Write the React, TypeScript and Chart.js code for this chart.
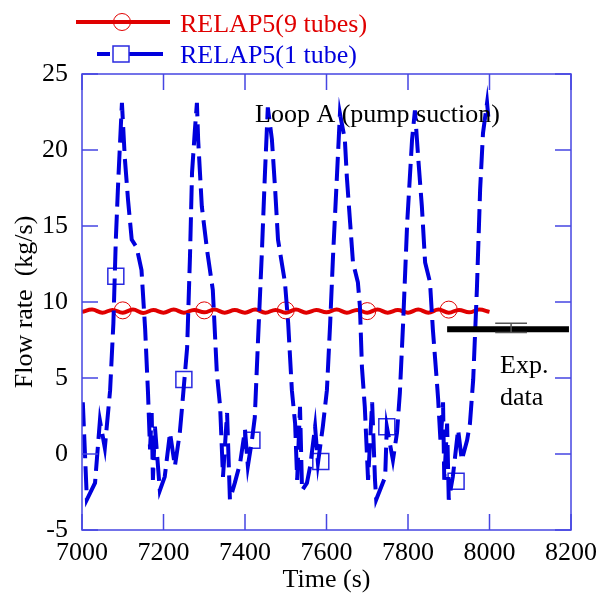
import { useEffect, useRef } from "react";
import { Chart, registerables } from "chart.js";

Chart.register(...registerables);

// ---- data ----
const xTickValues = [7000, 7200, 7400, 7600, 7800, 8000, 8200];
const yTickValues = [-5, 0, 5, 10, 15, 20, 25];

const nineTubeTime = [
  7000, 7025, 7050, 7075, 7100, 7125, 7150, 7175, 7200, 7225,
  7250, 7275, 7300, 7325, 7350, 7375, 7400, 7425, 7450, 7475,
  7500, 7525, 7550, 7575, 7600, 7625, 7650, 7675, 7700, 7725,
  7750, 7775, 7800, 7825, 7850, 7875, 7900, 7925, 7950, 7975, 8000,
];
const nineTubeFlow = [
  9.35, 9.5, 9.3, 9.48, 9.3, 9.5, 9.28, 9.47, 9.3, 9.5,
  9.3, 9.48, 9.32, 9.5, 9.3, 9.47, 9.3, 9.5, 9.3, 9.48,
  9.3, 9.5, 9.3, 9.47, 9.32, 9.5, 9.3, 9.48, 9.3, 9.5,
  9.3, 9.47, 9.3, 9.5, 9.3, 9.5, 9.3, 9.48, 9.32, 9.5, 9.35,
];
const nineTubeMarkerTime = [7100, 7300, 7500, 7700, 7900];
const nineTubeMarkerFlow = [9.45, 9.45, 9.45, 9.4, 9.5];

const oneTubeTime = [
  7002, 7012, 7032, 7044, 7056, 7069, 7077, 7083, 7089, 7098,
  7105, 7113, 7122, 7134, 7146, 7155, 7162, 7167, 7171, 7174,
  7179, 7191, 7203, 7216, 7228, 7240, 7245, 7258, 7265, 7270,
  7277, 7282, 7285, 7294, 7307, 7321, 7331, 7339, 7346, 7356,
  7363, 7375, 7388, 7400, 7407, 7417, 7424, 7432, 7441, 7449,
  7456, 7466, 7474, 7481, 7498, 7506, 7515, 7523, 7528, 7535,
  7540, 7552, 7560, 7572, 7579, 7591, 7601, 7609, 7616, 7626,
  7633, 7645, 7650, 7658, 7665, 7677, 7682, 7687, 7694, 7702,
  7712, 7719, 7722, 7744, 7748, 7763, 7773, 7780, 7788, 7798,
  7810, 7817, 7825, 7834, 7842, 7854, 7861, 7871, 7874, 7880,
  7886, 7889, 7896, 7900, 7910, 7923, 7932, 7945, 7952, 7960,
  7969, 7977, 7984, 7994, 7997,
];
const oneTubeFlow = [
  3.4, -3.0, -1.9, 2.2, 0.4, 4.2, 8.6, 14.1, 18.0, 23.1,
  19.5, 16.7, 14.1, 13.6, 12.1, 8.2, 4.0, 0.3, 2.7, -1.7,
  1.8, -2.4, -1.5, 1.4, -0.8, 1.4, 2.9, 7.0, 13.0, 18.5,
  21.3, 23.1, 20.7, 16.3, 13.4, 10.8, 5.3, 3.1, -1.5, 2.7,
  -3.0, -1.9, -0.6, 1.6, -0.8, 0.9, 2.4, 7.5, 13.0, 18.5,
  22.8, 20.7, 17.4, 14.1, 11.3, 8.6, 4.2, 2.0, -1.7, 3.1,
  -2.4, -1.9, -0.8, 1.8, -0.6, 1.8, 4.2, 8.6, 13.0, 18.5,
  22.4, 20.7, 18.2, 15.2, 12.6, 11.3, 9.7, 5.7, 3.1, -1.7,
  3.4, -1.7, -3.0, -1.5, 1.8, -0.4, 1.4, 4.0, 8.6, 15.2,
  20.7, 22.6, 19.5, 16.3, 12.6, 11.3, 8.2, 4.7, 3.6, 0.7,
  3.4, -1.7, 2.0, -3.0, -1.5, 1.6, -0.4, 0.9, 2.0, 4.9,
  10.8, 17.4, 21.1, 23.1, 22.2,
];
const oneTubeMarkerTime = [7083, 7250, 7417, 7586, 7748, 7918];
const oneTubeMarkerFlow = [11.7, 4.9, 0.9, -0.5, 1.8, -1.8];

const expTime = [7896, 8195];
const expFlow = [8.2, 8.2];
const expErrTime = 8053;
const expErrLow = 8.0;
const expErrHigh = 8.6;
const expErrCapHalf = 39;

const legendLabels = ["RELAP5(9 tubes)", "RELAP5(1 tube)"];
const annotationLoop = "Loop A (pump suction)";
const annotationExp = ["Exp.", "data"];
const xTitle = "Time (s)";
const yTitle = "Flow rate  (kg/s)";

// ---- styles ----
const RED = "#e00000";
const BLUE = "#0000dd";
const MARKER_BLUE = "#2a2ae0";
const AXIS = "#4646e2";
const FONT = "'Liberation Serif', 'Times New Roman', serif";
const FS = 26;

const zip = (xs: number[], ys: number[]) => xs.map((x, i) => ({ x, y: ys[i] }));

const decorPlugin = {
  id: "decor",
  afterDatasetsDraw(chart: any) {
    const { ctx, chartArea: a, scales } = chart;
    const xs = scales.x;
    const ys = scales.y;
    ctx.save();
    // frame
    ctx.strokeStyle = AXIS;
    ctx.lineWidth = 1.5;
    ctx.strokeRect(a.left, a.top, a.right - a.left, a.bottom - a.top);
    // inward ticks
    const TL = 16;
    ctx.beginPath();
    xTickValues.forEach((v) => {
      const px = xs.getPixelForValue(v);
      ctx.moveTo(px, a.bottom);
      ctx.lineTo(px, a.bottom - TL);
      ctx.moveTo(px, a.top);
      ctx.lineTo(px, a.top + TL);
    });
    yTickValues.forEach((v) => {
      const py = ys.getPixelForValue(v);
      ctx.moveTo(a.left, py);
      ctx.lineTo(a.left + TL, py);
      ctx.moveTo(a.right, py);
      ctx.lineTo(a.right - TL, py);
    });
    ctx.stroke();

    // error bar on exp data
    ctx.strokeStyle = "#555555";
    ctx.lineWidth = 1.5;
    const ex = xs.getPixelForValue(expErrTime);
    const ex0 = xs.getPixelForValue(expErrTime - expErrCapHalf);
    const ex1 = xs.getPixelForValue(expErrTime + expErrCapHalf);
    const eyL = ys.getPixelForValue(expErrLow);
    const eyH = ys.getPixelForValue(expErrHigh);
    ctx.beginPath();
    ctx.moveTo(ex0, eyL); ctx.lineTo(ex1, eyL);
    ctx.moveTo(ex0, eyH); ctx.lineTo(ex1, eyH);
    ctx.moveTo(ex, eyL); ctx.lineTo(ex, eyH);
    ctx.stroke();

    // texts
    ctx.font = `${FS}px ${FONT}`;
    ctx.fillStyle = "#000";
    ctx.textBaseline = "alphabetic";
    ctx.textAlign = "left";
    ctx.fillText(annotationLoop, 255, 122);
    ctx.fillText(annotationExp[0], 500, 373);
    ctx.fillText(annotationExp[1], 500, 405);

    // axis titles
    ctx.textAlign = "center";
    ctx.fillText(xTitle, (a.left + a.right) / 2, 587);
    ctx.save();
    ctx.translate(32, (a.top + a.bottom) / 2);
    ctx.rotate(-Math.PI / 2);
    ctx.fillText(yTitle, 0, 0);
    ctx.restore();

    // legend
    ctx.textAlign = "left";
    ctx.lineWidth = 4;
    ctx.strokeStyle = RED;
    ctx.beginPath();
    ctx.moveTo(76, 22); ctx.lineTo(170, 22);
    ctx.stroke();
    ctx.lineWidth = 1;
    ctx.beginPath();
    ctx.arc(122, 22, 8.5, 0, Math.PI * 2);
    ctx.stroke();
    ctx.fillStyle = RED;
    ctx.fillText(legendLabels[0], 180, 32);

    ctx.strokeStyle = BLUE;
    ctx.lineWidth = 4;
    ctx.beginPath();
    ctx.moveTo(97, 54); ctx.lineTo(110, 54);
    ctx.moveTo(129, 54); ctx.lineTo(163, 54);
    ctx.stroke();
    ctx.strokeStyle = MARKER_BLUE;
    ctx.lineWidth = 1.5;
    ctx.strokeRect(113, 46, 16, 16);
    ctx.fillStyle = BLUE;
    ctx.fillText(legendLabels[1], 180, 63);
    ctx.restore();
  },
};

export default function App() {
  const ref = useRef<HTMLCanvasElement | null>(null);
  useEffect(() => {
    if (!ref.current) return;
    const chart = new Chart(ref.current, {
      type: "line",
      data: {
        datasets: [
          {
            data: zip(expTime, expFlow),
            borderColor: "#000",
            borderWidth: 6,
            pointRadius: 0,
            tension: 0,
          },
          {
            data: zip(oneTubeTime, oneTubeFlow),
            borderColor: BLUE,
            borderWidth: 4,
            borderDash: [24, 8],
            pointRadius: 0,
            tension: 0,
          },
          {
            data: zip(nineTubeTime, nineTubeFlow),
            borderColor: RED,
            borderWidth: 4,
            pointRadius: 0,
            tension: 0.4,
          },
          {
            data: zip(nineTubeMarkerTime, nineTubeMarkerFlow),
            showLine: false,
            pointStyle: "circle",
            pointRadius: 8.5,
            pointBorderWidth: 1,
            pointBorderColor: RED,
            pointBackgroundColor: "rgba(0,0,0,0)",
          },
          {
            data: zip(oneTubeMarkerTime, oneTubeMarkerFlow),
            showLine: false,
            pointStyle: "rect",
            pointRadius: 11.3,
            pointBorderWidth: 1.5,
            pointBorderColor: MARKER_BLUE,
            pointBackgroundColor: "rgba(0,0,0,0)",
          },
        ],
      },
      options: {
        responsive: false,
        animation: false,
        devicePixelRatio: 1,
        layout: { padding: { left: 0, right: 30, top: 74, bottom: 0 } },
        plugins: { legend: { display: false }, tooltip: { enabled: false } },
        scales: {
          x: {
            type: "linear",
            min: 7000,
            max: 8200,
            afterBuildTicks: (s: any) => {
              s.ticks = xTickValues.map((v) => ({ value: v }));
            },
            afterFit: (s: any) => {
              s.height = 64;
              s.paddingLeft = 0;
              s.paddingRight = 0;
            },
            ticks: {
              color: "#000",
              font: { family: FONT, size: FS },
              padding: 8,
              maxRotation: 0,
              autoSkip: false,
              callback: (v: any) => String(v),
            },
            grid: { display: false, drawTicks: false },
            border: { display: false },
          },
          y: {
            type: "linear",
            min: -5,
            max: 25,
            afterBuildTicks: (s: any) => {
              s.ticks = yTickValues.map((v) => ({ value: v }));
            },
            afterFit: (s: any) => {
              s.width = 82;
              s.paddingTop = 0;
              s.paddingBottom = 0;
            },
            ticks: {
              color: "#000",
              font: { family: FONT, size: FS },
              padding: 14,
              autoSkip: false,
              callback: (v: any) => String(v),
            },
            grid: { display: false, drawTicks: false },
            border: { display: false },
          },
        },
      },
      plugins: [decorPlugin],
    } as any);
    return () => chart.destroy();
  }, []);
  return (
    <div style={{ position: "absolute", left: 0, top: 0, width: 601, height: 594, background: "#fff" }}>
      <canvas ref={ref} width={601} height={594} />
    </div>
  );
}
